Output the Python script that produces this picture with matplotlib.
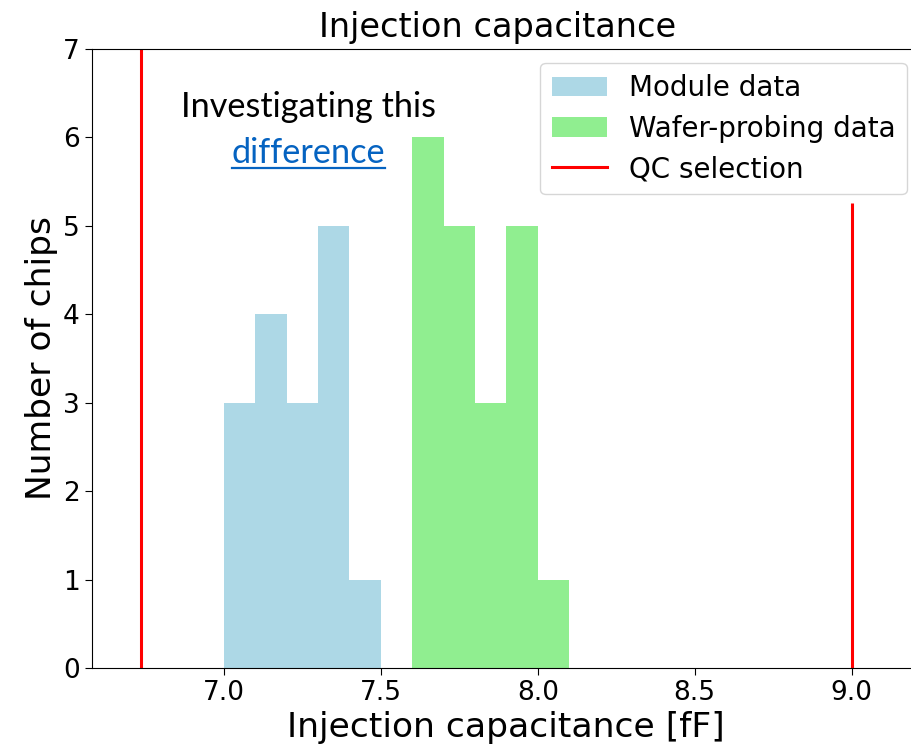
import numpy as np
import matplotlib.pyplot as plt
from matplotlib.lines import Line2D

plt.rcParams["font.family"] = "DejaVu Sans"

# histogram bin edges and counts
module_edges  = [7.0, 7.1, 7.2, 7.3, 7.4, 7.5]
module_counts = [3, 4, 3, 5, 1]
wafer_edges   = [7.6, 7.7, 7.8, 7.9, 8.0, 8.1]
wafer_counts  = [6, 5, 3, 5, 1]

qc_low  = 6.735
qc_high = 9.0
qc_high_top = 5.26   # right cut line stops below the legend

note_x = 7.269
note_y = [6.232, 5.713]

fig = plt.figure(figsize=(9.12, 7.54), dpi=100)
# the original picture is cropped on the right, so the axes run past the edge
ax = fig.add_axes([0.1005, 0.114, 0.9093, 0.821])
ax.spines["right"].set_visible(False)

m_centers = (np.array(module_edges[:-1]) + np.array(module_edges[1:])) / 2
w_centers = (np.array(wafer_edges[:-1]) + np.array(wafer_edges[1:])) / 2
ax.hist(m_centers, bins=module_edges, weights=module_counts,
        color="lightblue", label="Module data")
ax.hist(w_centers, bins=wafer_edges, weights=wafer_counts,
        color="lightgreen", label="Wafer-probing data")

ax.axvline(qc_low, color="red", lw=2.2, label="QC selection")
ax.vlines(qc_high, 0, qc_high_top, color="red", lw=2.2)

ax.set_xlim(6.5785, 9.2208)
ax.set_ylim(0, 7)
ax.set_xticks([7.0, 7.5, 8.0, 8.5, 9.0])
ax.tick_params(labelsize=19, length=5)
ax.set_xlabel("Injection capacitance [fF]", fontsize=24.8)
ax.set_ylabel("Number of chips", fontsize=24.8)
ax.set_title("Injection capacitance", fontsize=24.2, pad=9, x=0.49)

ax.legend(loc="upper right", fontsize=20, handlelength=2.0,
          borderaxespad=0.5, labelspacing=0.45)

# overlaid note with a hyperlink-style word
ax.text(note_x, note_y[0], "Investigating this", fontsize=24.7, family="Lato",
        ha="center", va="baseline")
t2 = ax.text(note_x, note_y[1], "difference", fontsize=24.7,
             family="Lato", color="#0563C1", ha="center", va="baseline")

fig.canvas.draw()
bb = t2.get_window_extent()
W, H = fig.get_size_inches() * fig.dpi
base = ax.transData.transform((note_x, note_y[1]))[1]
y_ul = (base - 5) / H
fig.add_artist(Line2D([bb.x0 / W, bb.x1 / W], [y_ul, y_ul],
                      color="#0563C1", lw=1.6))

fig.savefig("out.png", dpi=100)
